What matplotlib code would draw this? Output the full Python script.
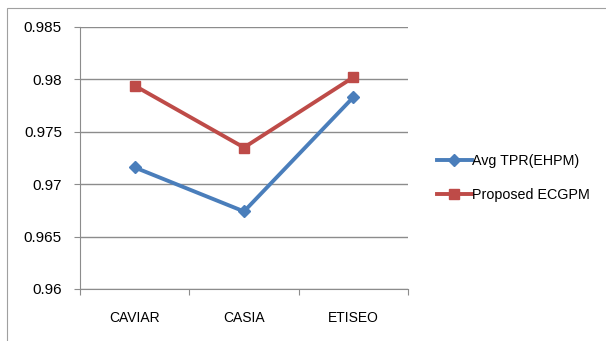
import matplotlib.pyplot as plt
from matplotlib.patches import Rectangle

categories = ["CAVIAR", "CASIA", "ETISEO"]
avg_tpr = [0.9716, 0.9674, 0.9783]
proposed = [0.9794, 0.9735, 0.9802]
yticks = [0.96, 0.965, 0.97, 0.975, 0.98, 0.985]
ytick_labels = ["0.96", "0.965", "0.97", "0.975", "0.98", "0.985"]

blue = "#4A7EBB"
red = "#BE4B48"
grid = "#8C8C8C"

plt.rcParams['font.family'] = ['Liberation Sans', 'DejaVu Sans']

fig = plt.figure(figsize=(6.06, 3.41), dpi=100)
# thin chart border
fig.patches.append(Rectangle((7 / 606, -0.05), 1.2, 1 - 8 / 341 + 0.05,
                             transform=fig.transFigure, fill=False,
                             edgecolor="#A0A0A0", linewidth=0.8))

ax = fig.add_axes([80 / 606, 1 - 289 / 341, 328 / 606, 262 / 341])
x = [0.5, 1.5, 2.5]
ax.plot(x, avg_tpr, color=blue, linewidth=2.8, marker="D", markersize=6.5,
        label="Avg TPR(EHPM)")
ax.plot(x, proposed, color=red, linewidth=2.8, marker="s", markersize=7.5,
        label="Proposed ECGPM")

ax.set_xlim(0, 3)
ax.set_ylim(0.96, 0.985)
ax.set_yticks(yticks)
ax.set_yticklabels(ytick_labels)
ax.set_xticks([0, 1, 2, 3])
ax.set_xticks(x, minor=True)
ax.set_xticklabels([])
ax.set_xticklabels(categories, minor=True)
ax.tick_params(axis="x", which="minor", length=0, pad=15.5, labelsize=10)
ax.tick_params(axis="x", which="major", length=4, color=grid, direction="out")
ax.tick_params(axis="y", length=4, color=grid, direction="out", labelsize=11, pad=9)
ax.yaxis.grid(True, color=grid, linewidth=1)
ax.set_axisbelow(True)
for side in ["top", "right"]:
    ax.spines[side].set_visible(False)
ax.spines["left"].set_color(grid)
ax.spines["bottom"].set_color(grid)

ax.legend(loc="center left", bbox_to_anchor=(1.05, (289 - 178) / 262),
          frameon=False, fontsize=10.3, handlelength=2.4, handletextpad=0.0,
          labelspacing=1.35)

fig.savefig("out.png", dpi=100)
